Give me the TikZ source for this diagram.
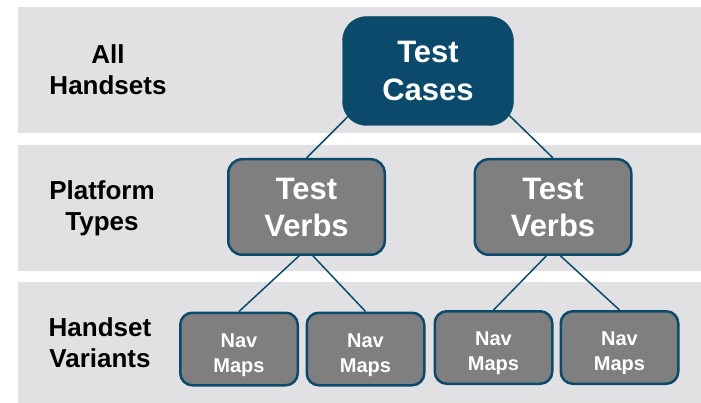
\documentclass[tikz,border=0pt]{standalone}
\usepackage{fontspec}
\setmainfont{Liberation Sans}
\usepackage{tikz}
\usetikzlibrary{positioning,calc,backgrounds}
\definecolor{navyteal}{HTML}{0B4A6B}
\definecolor{bandgrey}{HTML}{E1E1E3}
\definecolor{boxgrey}{HTML}{7F7F7F}
\pgfdeclarelayer{links}
\pgfsetlayers{background,links,main}
% two lines, set a little below the middle of the box
\newcommand{\stackdown}[1]{\raisebox{-5.5pt}[\height][\depth]{\begin{tabular}{@{}c@{}}#1\end{tabular}}}

\begin{document}
\begin{tikzpicture}[x=1pt, y=-1pt,
    band/.style={fill=bandgrey, draw=none},
    lbl/.style={align=center, text=black, inner sep=0pt, font=\fontsize{26}{31}\selectfont\bfseries},
    topbox/.style={rectangle, draw=navyteal, fill=navyteal, rounded corners=24pt, inner sep=0pt,
                   minimum width=171pt, minimum height=109pt, align=center, text=white,
                   font=\fontsize{31}{38}\selectfont\bfseries},
    midbox/.style={rectangle, draw=navyteal, line width=2.5pt, fill=boxgrey, rounded corners=14pt, inner sep=0pt,
                   minimum width=156.5pt, minimum height=95.5pt, align=center, text=white,
                   font=\fontsize{31}{37}\selectfont\bfseries},
    leafbox/.style={rectangle, draw=navyteal, line width=2.5pt, fill=boxgrey, rounded corners=12pt, inner sep=0pt,
                    minimum width=117.5pt, minimum height=72.5pt, text=white,
                    font=\fontsize{20}{25}\selectfont\bfseries},
    link/.style={draw=navyteal, line width=1.5pt}
]
\useasboundingbox (0,0) rectangle (701,403);

% level bands
\begin{scope}[on background layer]
\fill[band] (18,7) rectangle (701,133);
\fill[band] (18,145) rectangle (701,271);
\fill[band] (18,282) rectangle (701,403);
\end{scope}

% level labels
\node[lbl] (allsets) at (108,70) {All\\Handsets};
\node[lbl] (plattypes) at (102,208) {Platform\\Types};
\node[lbl] (variants) at (100,343) {Handset\\Variants};

% tree
\node[topbox] (cases) at (428,71) {Test\\Cases};
\node[midbox] (verbsL) at (306.5,207) {Test\\Verbs};
\node[midbox] (verbsR) at (553,207) {Test\\Verbs};
\node[leafbox] (navA) at (239,349) {\stackdown{Nav\\Maps}};
\node[leafbox] (navB) at (365.5,349) {\stackdown{Nav\\Maps}};
\node[leafbox] (navC) at (493.5,347.5) {\stackdown{Nav\\Maps}};
\node[leafbox] (navD) at (619.5,347.5) {\stackdown{Nav\\Maps}};

\coordinate (casesHub) at ($(cases.north)+(0,20)$);
\coordinate (verbsLHub) at ($(verbsL.south)+(0,-7)$);
\coordinate (verbsRHub) at ($(verbsR.south)+(0,-7)$);

\begin{pgfonlayer}{links}
\draw[link] (casesHub) -- (verbsL.north);
\draw[link] (casesHub) -- (verbsR.north);
\draw[link] (verbsLHub) -- (navA.north);
\draw[link] (verbsLHub) -- (navB.north);
\draw[link] (verbsRHub) -- (navC.north);
\draw[link] (verbsRHub) -- (navD.north);
\end{pgfonlayer}
\end{tikzpicture}
\end{document}
